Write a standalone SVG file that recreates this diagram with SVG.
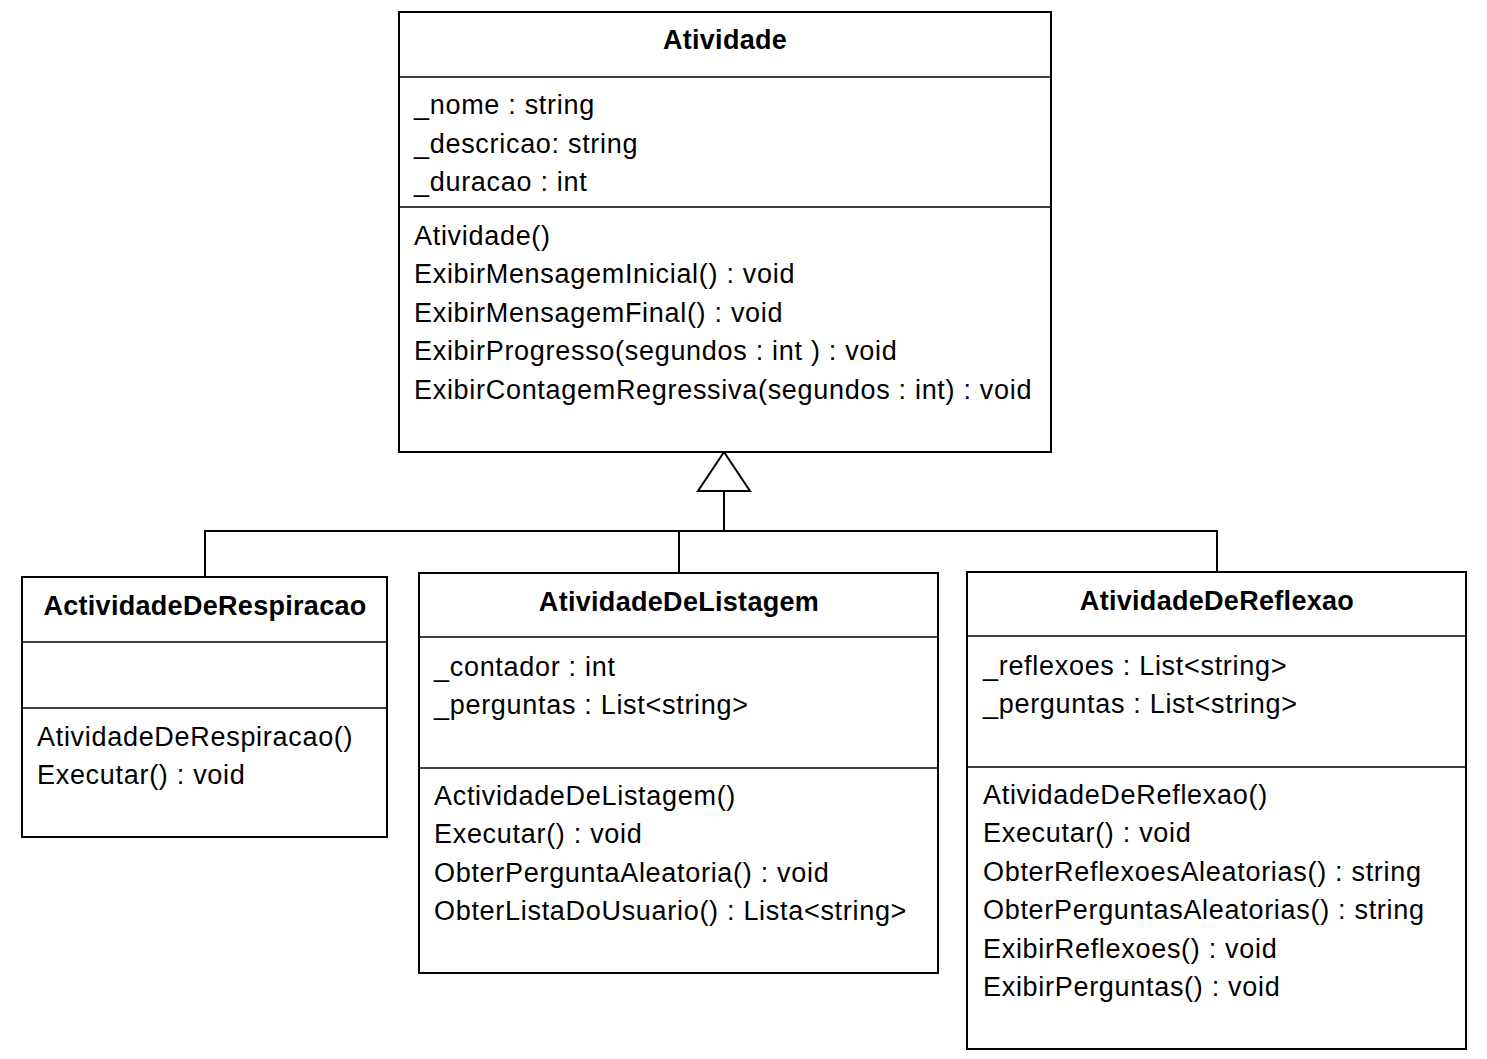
<svg xmlns="http://www.w3.org/2000/svg" width="1487" height="1059" viewBox="0 0 1487 1059">
<style>
.box{fill:#fff;stroke:#000;stroke-width:2}
.div{stroke:#000;stroke-width:1.5}
.t{font-family:"Liberation Sans",Arial,sans-serif;font-size:27px;letter-spacing:0.7px;fill:#000}
.h{font-family:"Liberation Sans",Arial,sans-serif;font-size:27px;letter-spacing:0.3px;font-weight:bold;fill:#000;text-anchor:middle}
.c{fill:none;stroke:#000;stroke-width:2}
</style>
<rect width="1487" height="1059" fill="#fff"/>
<g id="connectors">
<polyline class="c" points="205,577 205,531 1217,531 1217,572"/>
<line class="c" x1="679" y1="531" x2="679" y2="573"/>
<line class="c" x1="724" y1="531" x2="724" y2="491"/>
<polygon points="724,452 698,491 750,491" fill="#fff" stroke="#000" stroke-width="2"/>
</g>
<g id="Atividade">
<rect class="box" x="399" y="12" width="652" height="440"/>
<line class="div" x1="399" y1="77" x2="1051" y2="77"/>
<line class="div" x1="399" y1="207" x2="1051" y2="207"/>
<text class="h" x="725" y="49">Atividade</text>
<text class="t" x="414" y="114">_nome : string</text>
<text class="t" x="414" y="153">_descricao: string</text>
<text class="t" x="414" y="191">_duracao : int</text>
<text class="t" x="414" y="245">Atividade()</text>
<text class="t" x="414" y="283">ExibirMensagemInicial() : void</text>
<text class="t" x="414" y="322">ExibirMensagemFinal() : void</text>
<text class="t" x="414" y="360">ExibirProgresso(segundos : int ) : void</text>
<text class="t" x="414" y="399">ExibirContagemRegressiva(segundos : int) : void</text>
</g>
<g id="ActividadeDeRespiracao">
<rect class="box" x="22" y="577" width="365" height="260"/>
<line class="div" x1="22" y1="642" x2="387" y2="642"/>
<line class="div" x1="22" y1="708" x2="387" y2="708"/>
<text class="h" x="205" y="615">ActividadeDeRespiracao</text>
<text class="t" x="37" y="746">AtividadeDeRespiracao()</text>
<text class="t" x="37" y="784">Executar() : void</text>
</g>
<g id="AtividadeDeListagem">
<rect class="box" x="419" y="573" width="519" height="400"/>
<line class="div" x1="419" y1="637" x2="938" y2="637"/>
<line class="div" x1="419" y1="768" x2="938" y2="768"/>
<text class="h" x="679" y="611">AtividadeDeListagem</text>
<text class="t" x="434" y="676">_contador : int</text>
<text class="t" x="434" y="714">_perguntas : List&lt;string&gt;</text>
<text class="t" x="434" y="805">ActividadeDeListagem()</text>
<text class="t" x="434" y="843">Executar() : void</text>
<text class="t" x="434" y="882">ObterPerguntaAleatoria() : void</text>
<text class="t" x="434" y="920">ObterListaDoUsuario() : Lista&lt;string&gt;</text>
</g>
<g id="AtividadeDeReflexao">
<rect class="box" x="967" y="572" width="499" height="477"/>
<line class="div" x1="967" y1="636" x2="1466" y2="636"/>
<line class="div" x1="967" y1="767" x2="1466" y2="767"/>
<text class="h" x="1217" y="610">AtividadeDeReflexao</text>
<text class="t" x="983" y="675">_reflexoes : List&lt;string&gt;</text>
<text class="t" x="983" y="713">_perguntas : List&lt;string&gt;</text>
<text class="t" x="983" y="804">AtividadeDeReflexao()</text>
<text class="t" x="983" y="842">Executar() : void</text>
<text class="t" x="983" y="881">ObterReflexoesAleatorias() : string</text>
<text class="t" x="983" y="919">ObterPerguntasAleatorias() : string</text>
<text class="t" x="983" y="958">ExibirReflexoes() : void</text>
<text class="t" x="983" y="996">ExibirPerguntas() : void</text>
</g>
</svg>
